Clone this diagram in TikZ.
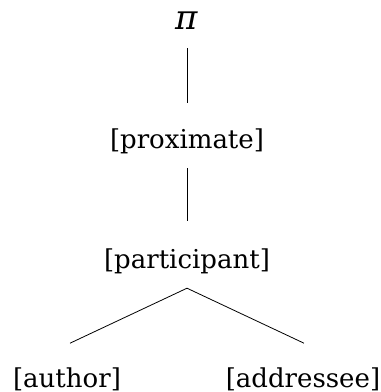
\documentclass[tikz,border=0pt]{standalone}
\usepackage{fontspec}
\setmainfont{DejaVu Serif}
\begin{document}
\begin{tikzpicture}[x=1pt,y=-1pt,
  feat/.style={inner sep=0pt,font=\fontsize{26}{30}\selectfont,anchor=base,
    text height=19pt,text depth=6pt},
  branch/.style={line width=0.8pt}]
  \useasboundingbox (0,0) rectangle (381,392);
  \node[feat,font=\fontsize{34}{38}\selectfont\itshape] (pi) at (187,29) {π};
  \node[feat] (prox) at (187,148) {[proximate]};
  \node[feat] (part) at (187,268) {[participant]};
  \node[feat] (auth) at (67,387) {[author]};
  \node[feat] (addr) at (303,387) {[addressee]};
  \coordinate (apex) at ([yshift=-14pt]part.south);
  \coordinate (authtop) at ([xshift=-117pt,yshift=-69pt]part.south);
  \coordinate (addrtop) at ([xshift=117pt,yshift=-69pt]part.south);
  \draw[branch,shorten <=13pt,shorten >=26pt] (pi.south) -- (prox.north);
  \draw[branch,shorten <=14pt,shorten >=28pt] (prox.south) -- (part.north);
  \draw[branch] (authtop) -- (apex) -- (addrtop);
\end{tikzpicture}
\end{document}
